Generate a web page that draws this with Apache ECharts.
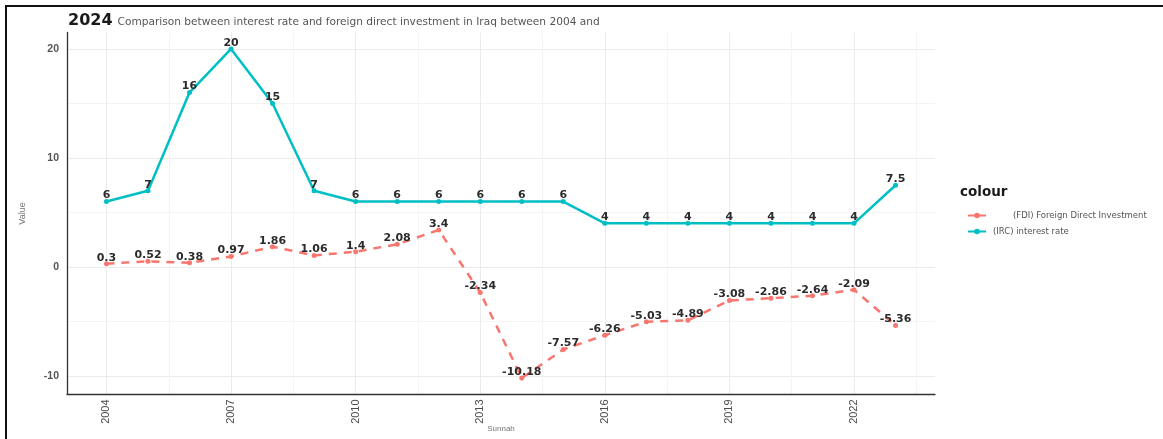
<!DOCTYPE html>
<html>
<head>
<meta charset="utf-8">
<title>Interest rate and FDI in Iraq</title>
<script src="https://cdn.jsdelivr.net/npm/echarts@6/dist/echarts.min.js"></script>
<style>
  html, body { margin: 0; padding: 0; background: #fff; }
  #chart { width: 1163px; height: 439px; }
</style>
</head>
<body>
<div id="chart"></div>
<script>
// Years on the horizontal axis
const years = [2004, 2005, 2006, 2007, 2008, 2009, 2010, 2011, 2012, 2013,
               2014, 2015, 2016, 2017, 2018, 2019, 2020, 2021, 2022, 2023];

// (FDI) Foreign Direct Investment
const fdiValues = [0.3, 0.52, 0.38, 0.97, 1.86, 1.06, 1.4, 2.08, 3.4, -2.34,
                   -10.18, -7.57, -6.26, -5.03, -4.89, -3.08, -2.86, -2.64, -2.09, -5.36];

// (IRC) interest rate
const ircValues = [6, 7, 16, 20, 15, 7, 6, 6, 6, 6,
                   6, 6, 4, 4, 4, 4, 4, 4, 4, 7.5];

// Axis ticks and grid lines
const xTicks = [2004, 2007, 2010, 2013, 2016, 2019, 2022];
const xMinor = [2005.5, 2008.5, 2011.5, 2014.5, 2017.5, 2020.5, 2023.5];
const yTicks = [-10, 0, 10, 20];
const yMinor = [-5, 5, 15];

const fdiName = '(FDI) Foreign Direct Investment';
const ircName = '(IRC) interest rate';

const FONT = "'Liberation Sans', Arial, sans-serif";
const WIDE = "'DejaVu Sans', 'Liberation Sans', sans-serif";
const xRange = { min: 2003.05, max: 2023.95 };
const yRange = { min: -11.69, max: 21.51 };

const chart = echarts.init(document.getElementById('chart'), null, { renderer: 'canvas' });

const pair = (xs, ys) => xs.map((x, i) => [x, ys[i]]);

const labelStyle = {
  show: true,
  position: 'top',
  distance: -2,
  fontSize: 11,
  fontWeight: 'bold',
  color: '#2b2b2b',
  fontFamily: WIDE
};

chart.setOption({
  animation: false,
  backgroundColor: '#ffffff',
  textStyle: { fontFamily: FONT },
  title: {
    left: 63,
    top: 6,
    text: '{big|2024} {small|Comparison between interest rate and foreign direct investment in Iraq between 2004 and}',
    textStyle: {
      fontWeight: 'normal',
      rich: {
        big: { fontSize: 16, fontWeight: 'bold', color: '#1a1a1a', fontFamily: WIDE, verticalAlign: 'bottom' },
        small: { fontSize: 10.6, fontWeight: 'normal', color: '#555555', fontFamily: WIDE, verticalAlign: 'bottom', padding: [0, 0, 1, 0] }
      }
    }
  },
  graphic: [
    {
      type: 'polyline',
      shape: { points: [[6, 439], [6, 6], [1163, 6]] },
      style: { stroke: '#111', lineWidth: 2, fill: null },
      silent: true
    },
    {
      type: 'text',
      left: 960,
      top: 185,
      style: { text: 'colour', fontSize: 13.5, fontWeight: 'bold', fill: '#1a1a1a', fontFamily: WIDE }
    }
  ],
  legend: {
    orient: 'vertical',
    left: 962,
    top: 206,
    itemWidth: 18,
    itemHeight: 7,
    itemGap: 7,
    data: [fdiName, ircName],
    lineStyle: { type: 'solid' },
    textStyle: {
      fontSize: 8.5,
      color: '#555555',
      fontFamily: WIDE,
      rich: {
        padWide: { width: 22 },
        padNarrow: { width: 2 }
      }
    },
    formatter: function (name) {
      return (name === fdiName ? '{padWide|}' : '{padNarrow|}') + name;
    }
  },
  grid: { left: 67, right: 228, top: 32.5, bottom: 44.6, containLabel: false, outerBoundsMode: 'none' },
  xAxis: [
    {
      type: 'value',
      min: xRange.min,
      max: xRange.max,
      name: 'Sunnah',
      nameLocation: 'middle',
      nameGap: 30,
      nameMoveOverlap: false,
      nameTextStyle: { fontSize: 8, color: '#777777', fontFamily: FONT },
      axisLine: { show: true, onZero: false, lineStyle: { color: '#333333', width: 1.3 } },
      axisTick: { show: false, customValues: xTicks },
      axisLabel: {
        customValues: xTicks,
        rotate: 90,
        margin: 5,
        fontSize: 11,
        color: '#4d4d4d',
        fontFamily: FONT,
        formatter: v => String(v)
      },
      splitLine: { show: true, lineStyle: { color: '#ebebeb', width: 1 } }
    },
    {
      type: 'value',
      min: xRange.min,
      max: xRange.max,
      position: 'bottom',
      axisLine: { show: false, onZero: false },
      axisTick: { show: false, customValues: xMinor },
      axisLabel: { show: false, customValues: xMinor },
      splitLine: { show: true, lineStyle: { color: '#f4f4f4', width: 1 } }
    }
  ],
  yAxis: [
    {
      type: 'value',
      min: yRange.min,
      max: yRange.max,
      name: 'Value',
      nameLocation: 'middle',
      nameGap: 40,
      nameMoveOverlap: false,
      nameRotate: 90,
      nameTextStyle: { fontSize: 9, color: '#777777', fontFamily: FONT },
      axisLine: { show: true, onZero: false, lineStyle: { color: '#333333', width: 1.3 } },
      axisTick: { show: false, customValues: yTicks },
      axisLabel: {
        customValues: yTicks,
        margin: 8,
        fontSize: 10.5,
        fontWeight: 'bold',
        color: '#555555',
        fontFamily: FONT,
        formatter: v => String(v)
      },
      splitLine: { show: true, lineStyle: { color: '#ebebeb', width: 1 } }
    },
    {
      type: 'value',
      min: yRange.min,
      max: yRange.max,
      position: 'left',
      axisLine: { show: false, onZero: false },
      axisTick: { show: false, customValues: yMinor },
      axisLabel: { show: false, customValues: yMinor },
      splitLine: { show: true, lineStyle: { color: '#f4f4f4', width: 1 } }
    }
  ],
  series: [
    {
      name: fdiName,
      type: 'line',
      xAxisIndex: 0,
      yAxisIndex: 0,
      data: pair(years, fdiValues),
      symbol: 'circle',
      symbolSize: 5,
      itemStyle: { color: '#F8766D' },
      lineStyle: { color: '#F8766D', width: 2.5, type: [8, 7] },
      label: labelStyle,
      z: 3
    },
    {
      name: ircName,
      type: 'line',
      xAxisIndex: 0,
      yAxisIndex: 0,
      data: pair(years, ircValues),
      symbol: 'circle',
      symbolSize: 5,
      itemStyle: { color: '#00BFC4' },
      lineStyle: { color: '#00BFC4', width: 2.5 },
      label: labelStyle,
      z: 4
    }
  ]
});
</script>
</body>
</html>
